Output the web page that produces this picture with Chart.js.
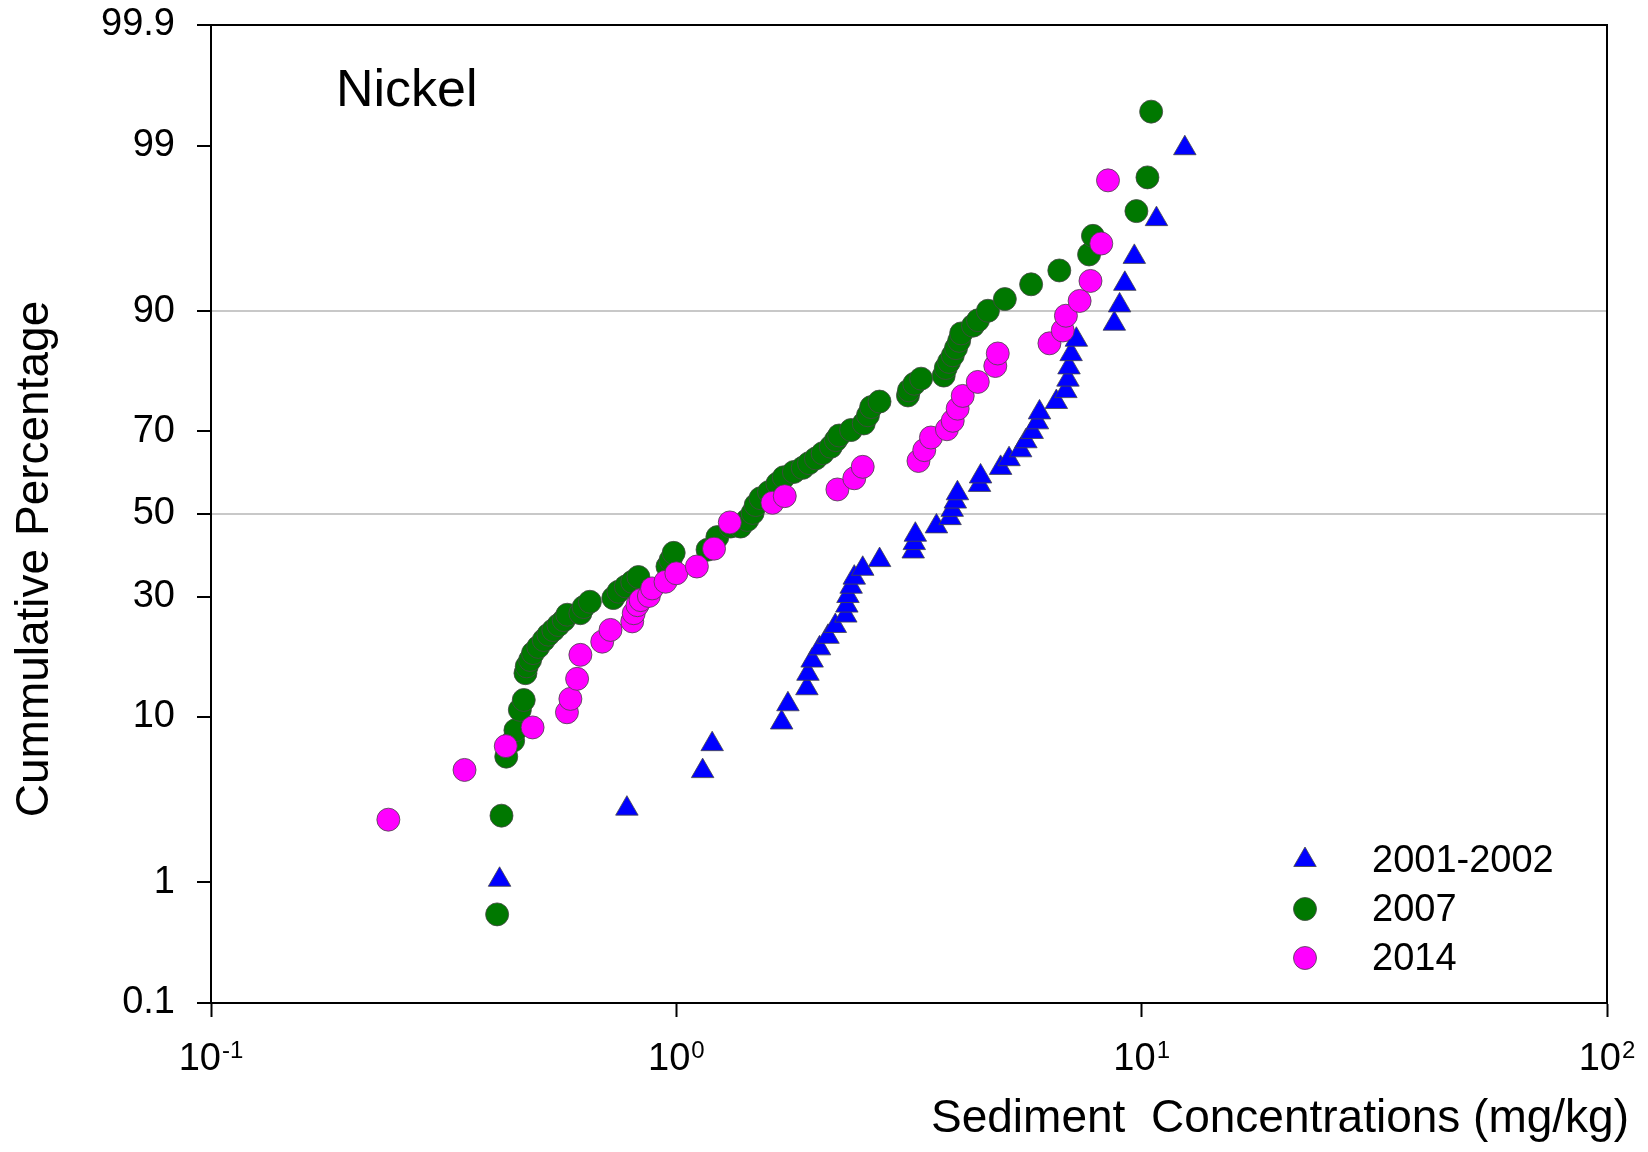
<!DOCTYPE html>
<html>
<head>
<meta charset="utf-8">
<script src="https://cdn.jsdelivr.net/npm/chart.js@4.4.1/dist/chart.umd.min.js"></script>
<style>
html, body { margin:0; padding:0; background:#fff; }
</style>
</head>
<body>
<canvas id="myChart" width="1648" height="1152"></canvas>
<script>
var FONT = '"Liberation Sans", Arial, sans-serif';

// axis ticks
var yTickLabels = ['0.1', '1', '10', '30', '50', '70', '90', '99', '99.9'];
var yTickPercents = [0.1, 1, 10, 30, 50, 70, 90, 99, 99.9];
var yGridPercents = [50, 90];
var xTickValues = [0.1, 1, 10, 100];
var xTickExp = ['-1', '0', '1', '2'];

// 2001-2002 (concentration mg/kg, cumulative %)
var blueX = [0.417,0.783,1.139,1.194,1.684,1.737,1.908,1.918,1.958,2.031,2.118,2.196,2.313,2.325,2.338,2.375,2.412,2.515,2.734,3.229,3.246,3.263,3.622,3.875,3.916,3.977,4.019,4.483,4.506,4.976,5.188,5.494,5.638,5.817,5.970,6.032,6.556,6.872,6.944,6.980,7.053,7.239,8.735,8.966,9.200,9.643,10.76,12.38];
var bluePct = [1.04,3.13,5.21,7.29,9.38,11.46,13.54,15.63,17.71,19.79,21.88,23.96,26.04,28.13,30.21,32.29,34.38,36.46,38.54,40.63,42.71,44.79,46.88,48.96,51.04,53.13,55.21,57.29,59.38,61.46,63.54,65.63,67.71,69.79,71.88,73.96,76.04,78.13,80.21,82.29,84.38,86.46,88.54,90.63,92.71,94.79,96.88,98.96];

// 2007
var greenX = [0.412,0.421,0.431,0.446,0.451,0.461,0.470,0.474,0.477,0.485,0.492,0.505,0.519,0.531,0.544,0.558,0.573,0.583,0.622,0.632,0.652,0.732,0.751,0.779,0.804,0.829,0.957,0.972,0.987,1.167,1.225,1.308,1.374,1.421,1.459,1.481,1.517,1.582,1.649,1.702,1.789,1.869,1.928,1.995,2.063,2.148,2.202,2.238,2.374,2.528,2.581,2.622,2.733,3.146,3.162,3.246,3.357,3.755,3.794,3.855,3.928,3.990,4.053,4.093,4.341,4.449,4.674,5.081,5.787,6.653,7.709,7.858,9.743,10.29,10.48];
var greenPct = [0.57,2.83,6.26,7.60,8.59,10.79,11.99,15.72,16.78,17.81,18.97,20.05,21.28,22.28,23.15,24.14,25.11,26.22,26.53,27.82,28.96,29.77,31.17,32.36,33.40,34.53,37.00,38.56,40.30,41.07,44.20,46.83,46.83,48.49,50.26,52.25,53.97,55.54,57.62,59.19,60.47,61.47,62.60,63.74,64.96,66.45,67.96,69.01,70.22,71.64,73.36,75.03,76.13,77.31,78.26,79.47,80.38,80.91,82.19,83.18,84.20,85.27,86.31,87.31,88.30,88.96,90.05,91.28,92.67,93.81,94.95,96.06,97.22,98.33,99.45];

// 2014
var pinkX = [0.2405,0.3506,0.430,0.491,0.582,0.592,0.612,0.622,0.693,0.722,0.804,0.810,0.825,0.838,0.873,0.887,0.948,1.000,1.107,1.205,1.303,1.609,1.710,2.219,2.412,2.515,3.314,3.410,3.525,3.815,3.926,4.023,4.125,4.444,4.847,4.906,6.336,6.767,6.874,7.356,7.763,8.189,8.465];
var pinkPct = [2.67,5.29,7.12,8.87,10.51,12.13,14.88,18.67,20.99,23.19,24.87,26.53,28.22,29.32,30.22,31.91,33.43,35.40,37.00,41.33,47.88,52.83,54.49,56.16,58.93,61.72,63.12,65.68,68.56,70.39,72.21,74.72,77.22,79.80,82.52,84.48,85.96,87.69,89.49,91.09,92.96,95.63,98.25];

// inverse normal cdf (probability axis)
function probit(p) {
	var a = [-3.969683028665376e+01, 2.209460984245205e+02, -2.759285104469687e+02, 1.383577518672690e+02, -3.066479806614716e+01, 2.506628277459239e+00];
	var b = [-5.447609879822406e+01, 1.615858368580409e+02, -1.556989798598866e+02, 6.680131188771972e+01, -1.328068155288572e+01];
	var c = [-7.784894002430293e-03, -3.223964580411365e-01, -2.400758277161838e+00, -2.549732539343734e+00, 4.374664141464968e+00, 2.938163982698783e+00];
	var d = [7.784695709041462e-03, 3.224671290700398e-01, 2.445134137142996e+00, 3.754408661907416e+00];
	var pl = 0.02425, q, r;
	if (p < pl) {
		q = Math.sqrt(-2 * Math.log(p));
		return (((((c[0]*q+c[1])*q+c[2])*q+c[3])*q+c[4])*q+c[5]) / ((((d[0]*q+d[1])*q+d[2])*q+d[3])*q+1);
	}
	if (p > 1 - pl) {
		q = Math.sqrt(-2 * Math.log(1 - p));
		return -(((((c[0]*q+c[1])*q+c[2])*q+c[3])*q+c[4])*q+c[5]) / ((((d[0]*q+d[1])*q+d[2])*q+d[3])*q+1);
	}
	q = p - 0.5; r = q * q;
	return (((((a[0]*r+a[1])*r+a[2])*r+a[3])*r+a[4])*r+a[5])*q / (((((b[0]*r+b[1])*r+b[2])*r+b[3])*r+b[4])*r+1);
}

function toPoints(xs, pcts) {
	var pts = [];
	for (var i = 0; i < xs.length; i++) {
		pts.push({ x: xs[i], y: probit(pcts[i] / 100) });
	}
	return pts;
}

var seriesStyle = [
	{ label: '2001-2002', color: '#0000ff', style: 'triangle', radius: 13 },
	{ label: '2007', color: '#007800', style: 'circle', radius: 11.5 },
	{ label: '2014', color: '#ff00ff', style: 'circle', radius: 11.5 }
];

var gridZ = yGridPercents.map(function (p) { return probit(p / 100); });

var decor = {
	id: 'decor',
	afterDraw: function (chart) {
		var ctx = chart.ctx, a = chart.chartArea, xs = chart.scales.x;
		ctx.save();
		// frame top / right
		ctx.strokeStyle = '#000';
		ctx.lineWidth = 2;
		ctx.beginPath();
		ctx.moveTo(a.left, a.top);
		ctx.lineTo(a.right, a.top);
		ctx.lineTo(a.right, a.bottom);
		ctx.stroke();

		ctx.fillStyle = '#000';
		ctx.textBaseline = 'alphabetic';
		ctx.textAlign = 'left';
		// x tick labels 10^n
		xTickValues.forEach(function (v, i) {
			var px = xs.getPixelForValue(v);
			ctx.font = '38px ' + FONT;
			var wb = ctx.measureText('10').width;
			ctx.font = '24px ' + FONT;
			var we = ctx.measureText(xTickExp[i]).width;
			var x0 = px - (wb + we + 1) / 2;
			ctx.font = '38px ' + FONT;
			ctx.fillText('10', x0, 1070);
			ctx.font = '24px ' + FONT;
			ctx.fillText(xTickExp[i], x0 + wb + 1, 1058);
		});

		// x title
		ctx.font = '46px ' + FONT;
		ctx.textAlign = 'right';
		ctx.fillText('Sediment  Concentrations (mg/kg)', 1629, 1132);

		// y title
		ctx.save();
		ctx.translate(48, 559);
		ctx.rotate(-Math.PI / 2);
		ctx.textAlign = 'center';
		ctx.fillText('Cummulative Percentage', 0, 0);
		ctx.restore();

		// panel label
		ctx.font = '52px ' + FONT;
		ctx.textAlign = 'left';
		ctx.fillText('Nickel', 336, 106);

		// legend
		var rows = [860, 909, 958];
		seriesStyle.forEach(function (s, i) {
			ctx.fillStyle = s.color;
			ctx.strokeStyle = 'rgba(70,70,70,0.8)';
			ctx.lineWidth = 1;
			Chart.helpers.drawPoint(ctx, { pointStyle: s.style, radius: s.radius, borderWidth: 1, rotation: 0 }, 1305, rows[i]);
			ctx.fillStyle = '#000';
			ctx.font = '38px ' + FONT;
			ctx.textAlign = 'left';
			ctx.textBaseline = 'middle';
			ctx.fillText(s.label, 1372, rows[i] + 2);
		});
		ctx.restore();
	}
};

var xyData = [toPoints(blueX, bluePct), toPoints(greenX, greenPct), toPoints(pinkX, pinkPct)];

var datasets = seriesStyle.map(function (s, i) {
	return {
		label: s.label,
		data: xyData[i],
		pointStyle: s.style,
		pointRadius: s.radius,
		pointHoverRadius: s.radius,
		backgroundColor: s.color,
		borderColor: 'rgba(70,70,70,0.8)',
		borderWidth: 1,
		showLine: false,
		order: 2 - i
	};
});

var config = {
	type: 'scatter',
	data: { datasets: datasets },
	options: {
		responsive: false,
		animation: false,
		layout: { padding: { left: 0, top: 25, right: 41, bottom: 0 } },
		plugins: {
			legend: { display: false },
			tooltip: { enabled: false }
		},
		scales: {
			x: {
				type: 'logarithmic',
				min: 0.1,
				max: 100,
				afterBuildTicks: function (scale) {
					scale.ticks = xTickValues.map(function (v) { return { value: v }; });
				},
				afterFit: function (scale) {
					scale.height = 149;
					scale.paddingLeft = 0;
					scale.paddingRight = 0;
				},
				ticks: { display: false },
				grid: {
					drawOnChartArea: false,
					drawTicks: true,
					tickLength: 14,
					tickColor: '#000',
					tickWidth: 2
				},
				border: { display: true, color: '#000', width: 2 }
			},
			y: {
				type: 'linear',
				min: probit(0.001),
				max: probit(0.999),
				afterBuildTicks: function (scale) {
					scale.ticks = yTickPercents.map(function (p) { return { value: probit(p / 100) }; });
				},
				afterFit: function (scale) {
					scale.width = 211;
					scale.paddingTop = 0;
					scale.paddingBottom = 0;
				},
				ticks: {
					padding: 22,
					color: '#000',
					font: { family: FONT, size: 38 },
					callback: function (value, index) { return yTickLabels[index]; }
				},
				grid: {
					drawOnChartArea: true,
					drawTicks: true,
					tickLength: 14,
					tickWidth: 2,
					tickColor: '#000',
					lineWidth: 2,
					color: function (ctx) {
						var v = ctx.tick ? ctx.tick.value : null;
						for (var i = 0; i < gridZ.length; i++) {
							if (v !== null && Math.abs(v - gridZ[i]) < 1e-6) return '#c8c8c8';
						}
						return 'rgba(0,0,0,0)';
					}
				},
				border: { display: true, color: '#000', width: 2 }
			}
		}
	},
	plugins: [decor]
};

var myChart = new Chart(document.getElementById('myChart'), config);
</script>
</body>
</html>
